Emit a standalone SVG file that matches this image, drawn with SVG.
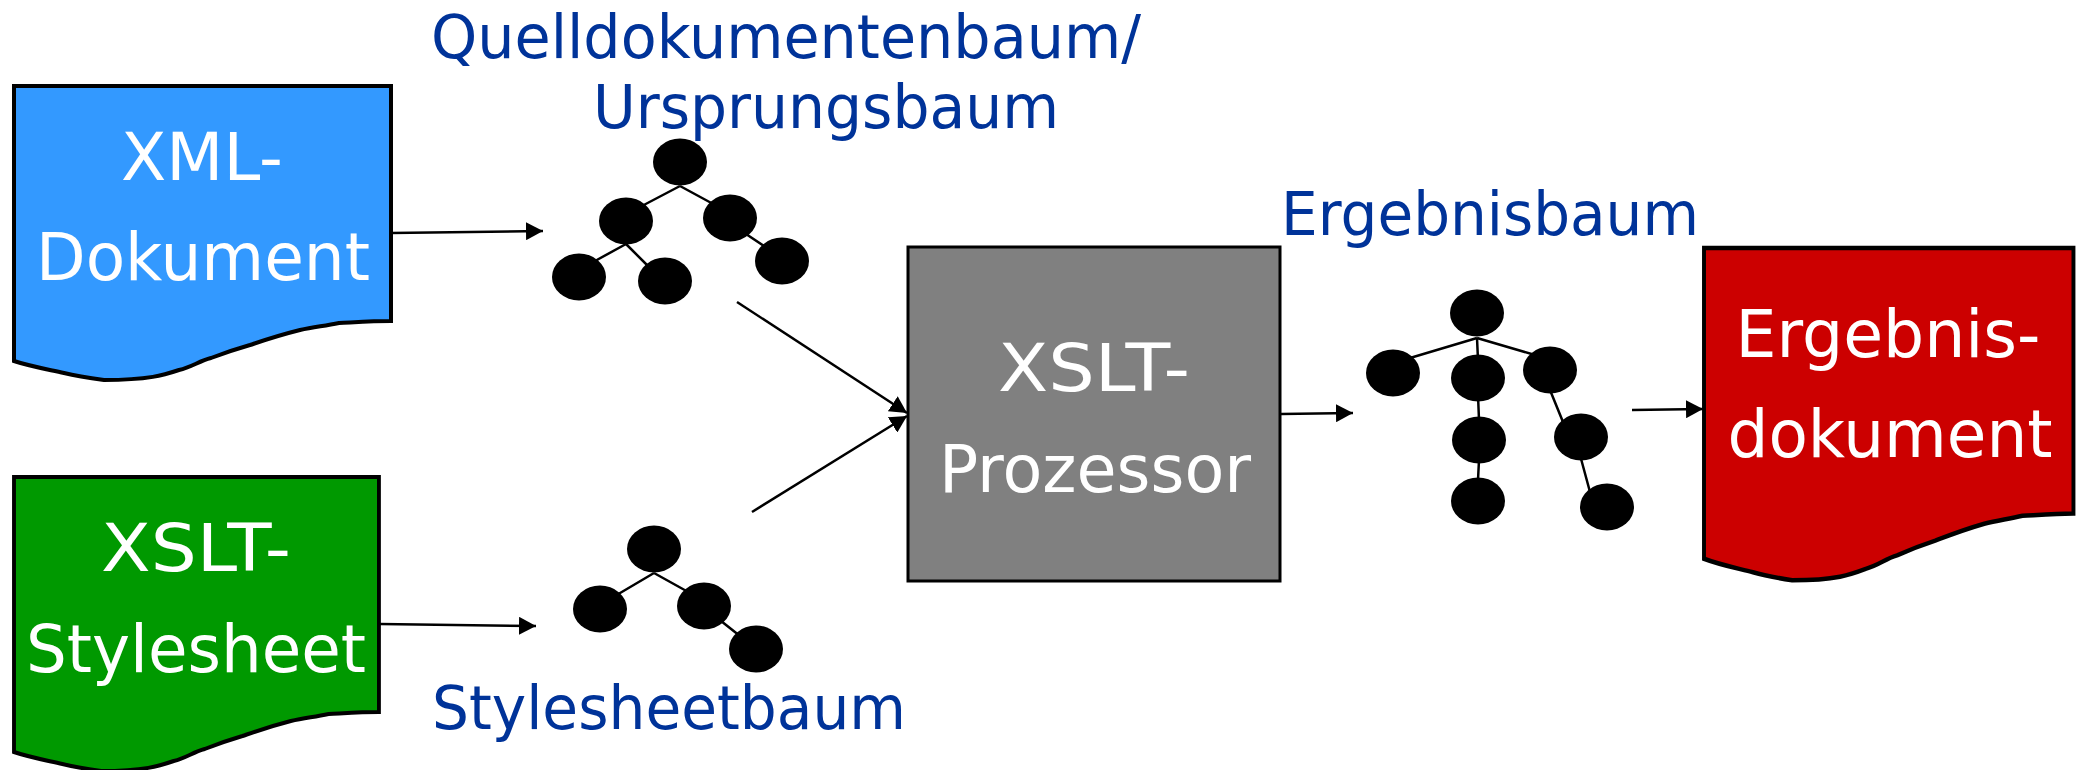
<svg xmlns="http://www.w3.org/2000/svg" width="2080" height="770" viewBox="0 0 2080 770">
<style>
.doc{stroke:#000;stroke-width:4}
.box{stroke:#000;stroke-width:3}
.t{font-family:"DejaVu Sans",sans-serif;font-weight:400}
.w{font-size:65px;fill:#fff;text-anchor:middle}
.b{font-size:60px;fill:#003399}
.e{stroke:#000;stroke-width:2.5;fill:none}
.a{stroke:#000;stroke-width:2.5;fill:none;marker-end:url(#ah)}
.n{fill:#000}
</style>
<defs>
<marker id="ah" markerUnits="userSpaceOnUse" markerWidth="18" markerHeight="18" refX="17" refY="9" orient="auto"><path d="M0 0L17 9L0 18Z" fill="#000"/></marker>
<path id="wave" d="M0 0H377V235C360 235 345 236 325 237C310 240 300 241 286 244C262 250 248 255 236 259C222 263 210 267 197 272C185 275 178 281 165 284C150 289 135 294 90 294C75 292 62 290 50 287C32 283 15 280 0 275Z"/>
</defs>
<rect width="2080" height="770" fill="#fff"/>
<g id="connectors">
<line class="a" x1="391" y1="233" x2="543" y2="231"/>
<line class="a" x1="380" y1="624" x2="536" y2="626"/>
<line class="a" x1="737" y1="302" x2="907" y2="413"/>
<line class="a" x1="752" y1="512" x2="907" y2="416"/>
<line class="a" x1="1281" y1="414" x2="1353" y2="413"/>
<line class="a" x1="1632" y1="410" x2="1703" y2="409"/>
<path class="e" d="M680 186L640 207M680 186L715 205M626 244L595 261M626 244L650 268M740 230L770 250"/>
<path class="e" d="M654 573L615 596M654 573L690 593M716 617L745 640"/>
<path class="e" d="M1477 338L1410 358M1477 338L1478 360M1477 338L1535 355M1478 395L1479 420M1479 460L1478 480M1550 390L1563 422M1580 455L1590 492"/>
</g>
<g id="xml-dokument">
<use href="#wave" class="doc" fill="#3399ff" x="14" y="86"/>
<text class="t w" x="202" y="180" textLength="162" lengthAdjust="spacingAndGlyphs">XML-</text>
<text class="t w" x="203" y="280" textLength="334" lengthAdjust="spacingAndGlyphs">Dokument</text>
</g>
<g id="xslt-stylesheet">
<use href="#wave" class="doc" fill="#009900" transform="translate(14 477) scale(0.968 1)"/>
<text class="t w" x="196" y="571" textLength="190" lengthAdjust="spacingAndGlyphs">XSLT-</text>
<text class="t w" x="196" y="672" textLength="340" lengthAdjust="spacingAndGlyphs">Stylesheet</text>
</g>
<g id="xslt-prozessor">
<rect class="box" x="908" y="247" width="372" height="334" fill="#808080"/>
<text class="t w" x="1094" y="391" textLength="192" lengthAdjust="spacingAndGlyphs">XSLT-</text>
<text class="t w" x="1095" y="492" textLength="312" lengthAdjust="spacingAndGlyphs">Prozessor</text>
</g>
<g id="ergebnisdokument">
<use href="#wave" class="doc" fill="#cc0000" transform="translate(1704 248) scale(0.98 1.13)"/>
<text class="t w" x="1888" y="357" textLength="305" lengthAdjust="spacingAndGlyphs">Ergebnis-</text>
<text class="t w" x="1890" y="457" textLength="325" lengthAdjust="spacingAndGlyphs">dokument</text>
</g>
<g id="quellbaum">
<ellipse class="n" cx="680" cy="162" rx="27" ry="23.5"/>
<ellipse class="n" cx="626" cy="221" rx="27" ry="23.5"/>
<ellipse class="n" cx="730" cy="218" rx="27" ry="23.5"/>
<ellipse class="n" cx="579" cy="277" rx="27" ry="23.5"/>
<ellipse class="n" cx="665" cy="281" rx="27" ry="23.5"/>
<ellipse class="n" cx="782" cy="261" rx="27" ry="23.5"/>
<text class="t b" x="431" y="58" textLength="710" lengthAdjust="spacingAndGlyphs">Quelldokumentenbaum/</text>
<text class="t b" x="593" y="128" textLength="466" lengthAdjust="spacingAndGlyphs">Ursprungsbaum</text>
</g>
<g id="stylesheetbaum">
<ellipse class="n" cx="654" cy="549" rx="27" ry="23.5"/>
<ellipse class="n" cx="600" cy="609" rx="27" ry="23.5"/>
<ellipse class="n" cx="704" cy="606" rx="27" ry="23.5"/>
<ellipse class="n" cx="756" cy="649" rx="27" ry="23.5"/>
<text class="t b" x="432" y="729" textLength="474" lengthAdjust="spacingAndGlyphs">Stylesheetbaum</text>
</g>
<g id="ergebnisbaum">
<ellipse class="n" cx="1477" cy="313" rx="27" ry="23.5"/>
<ellipse class="n" cx="1393" cy="373" rx="27" ry="23.5"/>
<ellipse class="n" cx="1478" cy="378" rx="27" ry="23.5"/>
<ellipse class="n" cx="1550" cy="370" rx="27" ry="23.5"/>
<ellipse class="n" cx="1479" cy="440" rx="27" ry="23.5"/>
<ellipse class="n" cx="1581" cy="437" rx="27" ry="23.5"/>
<ellipse class="n" cx="1478" cy="501" rx="27" ry="23.5"/>
<ellipse class="n" cx="1607" cy="507" rx="27" ry="23.5"/>
<text class="t b" x="1281" y="235" textLength="418" lengthAdjust="spacingAndGlyphs">Ergebnisbaum</text>
</g>
</svg>
